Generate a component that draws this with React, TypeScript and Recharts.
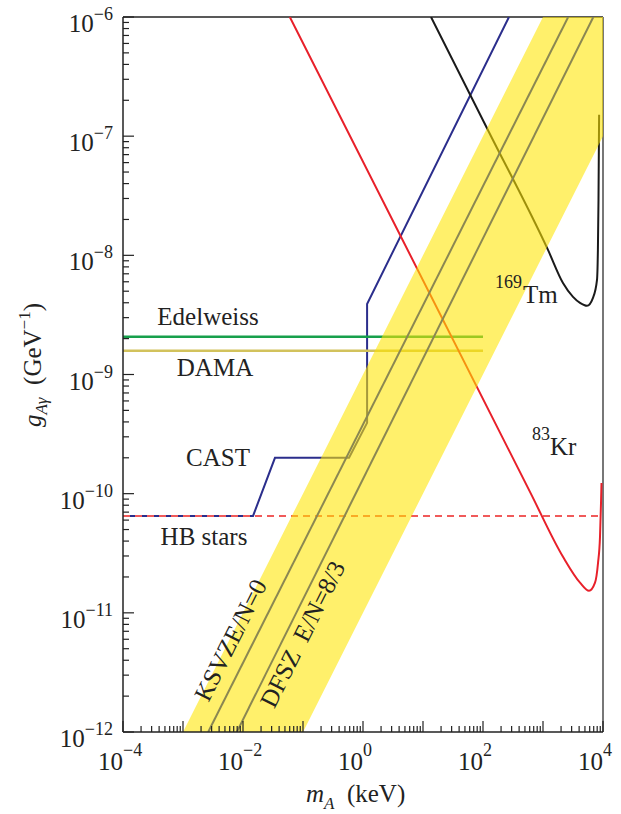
import React from 'react'
import { ComposedChart, Line, Area, XAxis, YAxis, ReferenceLine } from 'recharts'

const FONT = "'Liberation Serif', 'DejaVu Serif', serif"

// axis decades
const xDecades = [1e-4, 1e-3, 1e-2, 1e-1, 1, 10, 100, 1e3, 1e4]
const yDecades = [1e-12, 1e-11, 1e-10, 1e-9, 1e-8, 1e-7, 1e-6]

// axion band (keV, GeV^-1)
const bandMass = [1e-3, 0.1, 1e3, 1e4]
const bandLow = [1e-12, 1e-12, 1e-8, 1e-7]
const bandHigh = [1e-12, 1e-10, 1e-6, 1e-6]

// model lines
const ksvzMass = [0.00263, 2630]
const ksvzCoupling = [1e-12, 1e-6]
const dfszMass = [0.0079, 6900]
const dfszCoupling = [1e-12, 1e-6]

// CAST limit
const castMass = [1e-4, 0.0147, 0.0341, 0.585, 1.17, 1.17, 271]
const castCoupling = [6.5e-11, 6.5e-11, 2.0e-10, 2.0e-10, 3.93e-10, 3.91e-9, 1e-6]

// flat limits
const edelweissMass = [1e-4, 100]
const edelweissCoupling = [2.07e-9, 2.07e-9]
const damaMass = [1e-4, 100]
const damaCoupling = [1.58e-9, 1.58e-9]
const hbMass = [1e-4, 1e4]
const hbCoupling = [6.5e-11, 6.5e-11]

// 169Tm
const tmMass = [13.6, 126, 1211, 2153, 3162, 4140, 5408, 6808, 7943, 8222, 8414, 8610]
const tmCoupling = [1e-6, 1.08e-7, 1.11e-8, 5.86e-9, 4.48e-9, 3.99e-9, 3.77e-9, 4.4e-9, 6.22e-9, 1.11e-8, 2.92e-8, 1.51e-7]

// 83Kr
const krMass = [0.0603, 607, 2153, 4140, 5848, 7362, 8260, 8913, 9268, 9441]
const krCoupling = [1e-6, 1.035e-10, 2.95e-11, 1.79e-11, 1.53e-11, 1.79e-11, 2.62e-11, 4.35e-11, 8.38e-11, 1.23e-10]

const rows = (ms: number[], gs: number[]) => ms.map((m, i) => ({ m, g: gs[i] }))
const bandRows = bandMass.map((m, i) => ({ m, g: [bandLow[i], bandHigh[i]] }))

const withMinor = (decades: number[]) => {
  const out: number[] = []
  decades.forEach((d, i) => {
    out.push(d)
    if (i < decades.length - 1) for (let k = 2; k <= 9; k++) out.push(d * k)
  })
  return out
}
const xTicks = withMinor(xDecades)
const yTicks = withMinor(yDecades)

const expOf = (v: number) => {
  const l = Math.log10(v)
  const e = Math.round(l)
  return { e, major: Math.abs(l - e) < 1e-6 }
}
const sup = (e: number) => (e < 0 ? '\u2212' + -e : String(e))
const txt = { fontFamily: FONT, fill: '#222' }

function XTick(props: any) {
  const { x, y, payload } = props
  const { e, major } = expOf(payload.value)
  return (
    <g>
      <line x1={x} x2={x} y1={y} y2={y - (major ? 11 : 6)} stroke="#222" strokeWidth={1.2} />
      {major && e % 2 === 0 && (
        <g>
          <text x={x} y={y + 38} textAnchor="end" style={{ ...txt, fontSize: 25 }}>10</text>
          <text x={x} y={y + 24} textAnchor="start" style={{ ...txt, fontSize: 18 }}>{sup(e)}</text>
        </g>
      )}
    </g>
  )
}

function YTick(props: any) {
  const { x, y, payload } = props
  const { e, major } = expOf(payload.value)
  return (
    <g>
      <line x1={x} x2={x + (major ? 11 : 6)} y1={y} y2={y} stroke="#222" strokeWidth={1.2} />
      {major && (
        <text x={113} y={y + 15} textAnchor="end" style={{ ...txt, fontSize: 25 }}>
          10<tspan dy={-12} style={{ fontSize: 18 }}>{sup(e)}</tspan>
        </text>
      )}
    </g>
  )
}

const Labels = () => (
  <svg width={621} height={814} style={{ position: 'absolute', left: 0, top: 0, pointerEvents: 'none' }}>
    <g style={{ ...txt, fontSize: 25 }}>
      <text x={208} y={325} textAnchor="middle">Edelweiss</text>
      <text x={215} y={376} textAnchor="middle">DAMA</text>
      <text x={218} y={466} textAnchor="middle">CAST</text>
      <text x={204} y={545} textAnchor="middle">HB stars</text>
      <text x={495} y={288} style={{ fontSize: 18 }}>169</text>
      <text x={523} y={303}>Tm</text>
      <text x={532} y={440} style={{ fontSize: 18 }}>83</text>
      <text x={550} y={455}>Kr</text>
      <text x={238} y={644} textAnchor="middle" style={{ fontSize: 25 }} transform="rotate(-63.4 238 644)">KSVZE/N=0</text>
      <text x={310} y={638} textAnchor="middle" style={{ fontSize: 25 }} transform="rotate(-63.4 310 638)">
        DFSZ{'\u00a0\u00a0'}E/N=8/3
      </text>
      <text x={306} y={802}>
        <tspan style={{ fontStyle: 'italic' }}>m</tspan>
        <tspan style={{ fontStyle: 'italic', fontSize: 17 }} dy={7}>A</tspan>
        <tspan dy={-7}>{'\u00a0\u00a0'}(keV)</tspan>
      </text>
      <text x={41} y={365} textAnchor="middle" transform="rotate(-90 41 365)">
        <tspan style={{ fontStyle: 'italic' }}>g</tspan>
        <tspan style={{ fontStyle: 'italic', fontSize: 17 }} dy={6}>Aγ</tspan>
        <tspan dy={-6}>{'\u00a0\u00a0'}(GeV</tspan>
        <tspan style={{ fontSize: 17 }} dy={-11}>{'\u2212'}1</tspan>
        <tspan dy={11}>)</tspan>
      </text>
    </g>
  </svg>
)

export default function App() {
  return (
    <div style={{ position: 'absolute', left: 0, top: 0, width: 621, height: 814, background: '#fff' }}>
      <ComposedChart width={621} height={814} margin={{ top: 17, right: 18, bottom: 0, left: 0 }}>
        <XAxis
          dataKey="m"
          type="number"
          scale="log"
          domain={[1e-4, 1e4]}
          allowDataOverflow
          ticks={xTicks}
          interval={0}
          tick={<XTick />}
          tickLine={false}
          tickSize={0}
          tickMargin={0}
          height={82}
          axisLine={{ stroke: '#222', strokeWidth: 1.5 }}
        />
        <YAxis
          type="number"
          scale="log"
          domain={[1e-12, 1e-6]}
          allowDataOverflow
          ticks={yTicks}
          interval={0}
          tick={<YTick />}
          tickLine={false}
          tickSize={0}
          tickMargin={0}
          width={123}
          axisLine={{ stroke: '#222', strokeWidth: 1.5 }}
        />
        <ReferenceLine y={1e-6} stroke="#222" strokeWidth={1.5} />
        <ReferenceLine x={1e4} stroke="#777" strokeWidth={2} />
        <Line data={rows(castMass, castCoupling)} dataKey="g" type="linear" stroke="#2b2e8c" strokeWidth={2} dot={false} isAnimationActive={false} />
        <Line data={rows(edelweissMass, edelweissCoupling)} dataKey="g" type="linear" stroke="#17a04c" strokeWidth={2.5} dot={false} isAnimationActive={false} />
        <Line data={rows(damaMass, damaCoupling)} dataKey="g" type="linear" stroke="#d2c25c" strokeWidth={2.5} dot={false} isAnimationActive={false} />
        <Line data={rows(hbMass, hbCoupling)} dataKey="g" type="linear" stroke="#f05a5a" strokeWidth={2} strokeDasharray="7 5" dot={false} isAnimationActive={false} />
        <Line data={rows(krMass, krCoupling)} dataKey="g" type="monotone" stroke="#e8202a" strokeWidth={2} dot={false} isAnimationActive={false} />
        <Line data={rows(tmMass, tmCoupling)} dataKey="g" type="monotone" stroke="#1a1a1a" strokeWidth={2} dot={false} isAnimationActive={false} />
        <Area
          data={bandRows}
          dataKey="g"
          type="linear"
          stroke="none"
          fill="#ffe600"
          fillOpacity={0.58}
          isAnimationActive={false}
          {...({ zIndex: 450 } as any)}
        />
        <Line data={rows(ksvzMass, ksvzCoupling)} dataKey="g" type="linear" stroke="#8b8752" strokeWidth={2} dot={false} isAnimationActive={false} {...({ zIndex: 460 } as any)} />
        <Line data={rows(dfszMass, dfszCoupling)} dataKey="g" type="linear" stroke="#8b8752" strokeWidth={2} dot={false} isAnimationActive={false} {...({ zIndex: 460 } as any)} />
      </ComposedChart>
      <Labels />
    </div>
  )
}
